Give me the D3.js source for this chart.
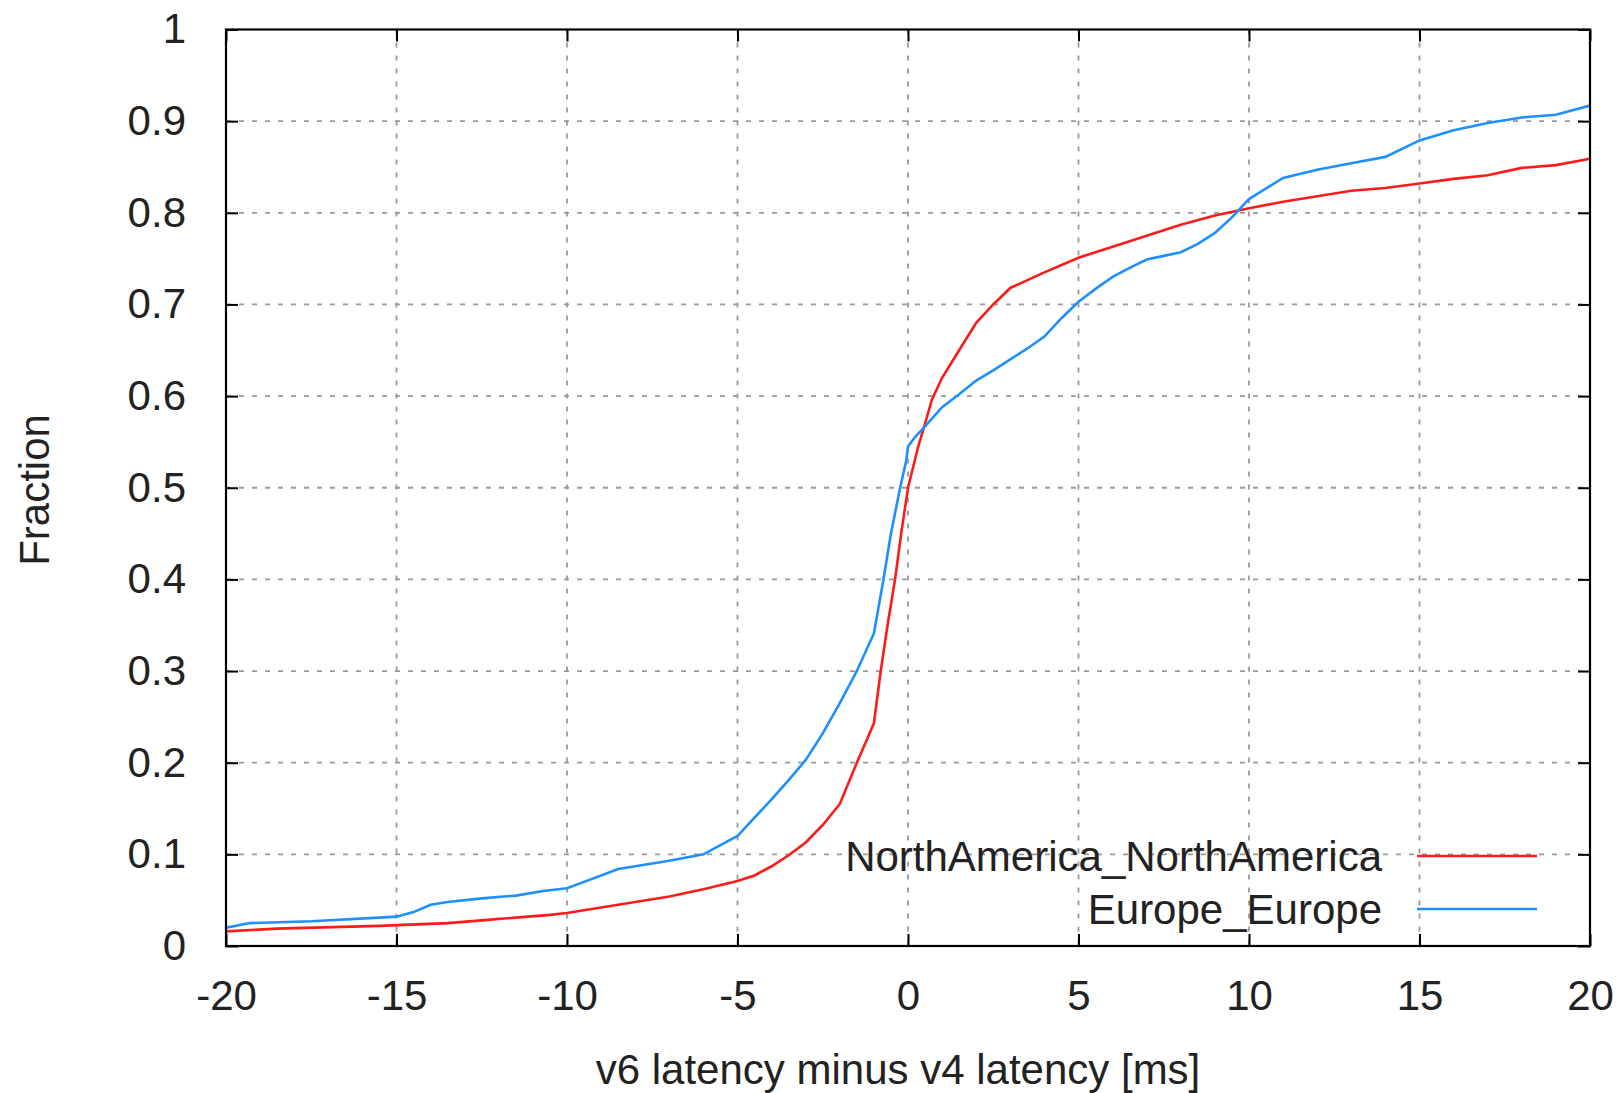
<!DOCTYPE html>
<html>
<head>
<meta charset="utf-8">
<script src="https://cdn.jsdelivr.net/npm/d3@7"></script>
<style>
  body { margin: 0; background: #fff; }
  text { font-family: "Liberation Sans", Arial, sans-serif; fill: #222; }
</style>
</head>
<body>
<svg id="chart"></svg>
<script>
// CDF of v6 latency minus v4 latency
let naLatency = [-20, -18.5, -15.5, -13.5, -12.5, -11.5, -10.5, -10, -9, -8,
    -7, -6, -5, -4.5, -4, -3.5, -3, -2.5, -2, -1.5,
    -1, -0.8, -0.6, -0.38, -0.2, 0, 0.3, 0.5, 0.7, 1,
    1.5, 2, 2.5, 3, 4, 5, 6, 7, 8, 9,
    10, 11, 12, 13, 14, 15, 16, 17, 18, 19, 20]
let naFraction = [0.016, 0.019, 0.022, 0.025, 0.028, 0.031, 0.034, 0.036, 0.042, 0.048,
    0.054, 0.062, 0.071, 0.077, 0.087, 0.099, 0.113, 0.132, 0.155, 0.2,
    0.243, 0.3, 0.35, 0.4, 0.45, 0.5, 0.545, 0.57, 0.596, 0.62,
    0.65, 0.68, 0.7, 0.718, 0.735, 0.751, 0.763, 0.775, 0.787, 0.797,
    0.805, 0.812, 0.818, 0.824, 0.827, 0.832, 0.837, 0.841, 0.849, 0.852, 0.859]

let euLatency = [-20, -19.7, -19.3, -17.5, -15.5, -15, -14.5, -14, -13.5, -12.5,
    -11.5, -10.7, -10, -9.5, -9, -8.5, -8, -7, -6, -5.5,
    -5, -4.5, -4, -3.5, -3, -2.5, -2, -1.5, -1, -0.72,
    -0.5, -0.23, -0.05, 0, 0.2, 0.5, 1, 1.5, 2, 2.5,
    3, 3.5, 4, 4.5, 5, 5.5, 6, 6.5, 7, 7.5,
    8, 8.5, 9, 9.5, 10, 11, 12, 13, 14, 15,
    16, 17, 18, 19, 20]
let euFraction = [0.02, 0.022, 0.025, 0.027, 0.031, 0.032, 0.037, 0.045, 0.048, 0.052,
    0.055, 0.06, 0.063, 0.07, 0.077, 0.084, 0.087, 0.093, 0.1, 0.11,
    0.12, 0.14, 0.16, 0.181, 0.203, 0.232, 0.265, 0.3, 0.341, 0.4,
    0.45, 0.5, 0.53, 0.545, 0.555, 0.567, 0.588, 0.602, 0.617, 0.628,
    0.64, 0.652, 0.665, 0.685, 0.703, 0.717, 0.73, 0.74, 0.749, 0.753,
    0.757, 0.766, 0.778, 0.795, 0.815, 0.838, 0.847, 0.854, 0.861, 0.879,
    0.89, 0.898, 0.904, 0.907, 0.917]

let seriesNames = ["NorthAmerica_NorthAmerica", "Europe_Europe"]
let seriesColors = ["#ff1a1a", "#1e8fff"]
let xTicks = [-20, -15, -10, -5, 0, 5, 10, 15, 20]
let yTicks = [0, 0.1, 0.2, 0.3, 0.4, 0.5, 0.6, 0.7, 0.8, 0.9, 1]

let width = 1622
let height = 1093
let plotLeft = 226, plotRight = 1590, plotTop = 29.5, plotBottom = 946

let chart = d3.select("#chart").attr("width", width).attr("height", height)

let xscale = d3.scaleLinear().domain([-20, 20]).range([plotLeft, plotRight])
let yscale = d3.scaleLinear().domain([0, 1]).range([plotBottom, plotTop])

// dashed grid
let grid = chart.append("g")
grid.selectAll("line.vx").data(xTicks.slice(1, -1)).enter().append("line")
    .attr("x1", d => xscale(d)).attr("x2", d => xscale(d))
    .attr("y1", plotTop).attr("y2", plotBottom)
grid.selectAll("line.hy").data(yTicks.slice(1, -1)).enter().append("line")
    .attr("x1", plotLeft).attr("x2", plotRight)
    .attr("y1", d => yscale(d)).attr("y2", d => yscale(d))
grid.selectAll("line")
    .style("stroke", "#999")
    .style("stroke-width", 1.8)
    .style("stroke-dasharray", "5,8")

// axes, ticks pointing inward on all four sides
let fontSize = 42
chart.append("g")
    .attr("transform", "translate(0," + plotBottom + ")")
    .call(d3.axisBottom(xscale).tickValues(xTicks).tickSize(-12).tickPadding(34).tickFormat(d => String(d)))
chart.append("g")
    .attr("transform", "translate(" + plotLeft + ",0)")
    .call(d3.axisLeft(yscale).tickValues(yTicks).tickSize(-12).tickPadding(40).tickFormat(d => d === 0 || d === 1 ? String(d) : d.toFixed(1)))
chart.append("g")
    .attr("transform", "translate(0," + plotTop + ")")
    .call(d3.axisTop(xscale).tickValues(xTicks).tickSize(-12).tickFormat(""))
chart.append("g")
    .attr("transform", "translate(" + plotRight + ",0)")
    .call(d3.axisRight(yscale).tickValues(yTicks).tickSize(-12).tickFormat(""))

chart.selectAll(".domain").remove()
chart.selectAll(".tick line").style("stroke", "#000").style("stroke-width", 2)
chart.selectAll(".tick text")
    .style("font-size", fontSize + "px")
    .style("font-family", "'Liberation Sans', Arial, sans-serif")
    .style("fill", "#222")

// curves
let series = [
    { name: seriesNames[0], xs: naLatency, ys: naFraction, color: seriesColors[0] },
    { name: seriesNames[1], xs: euLatency, ys: euFraction, color: seriesColors[1] }
]

let line = d3.line()
    .x(d => xscale(d[0]))
    .y(d => yscale(d[1]))

chart.append("clipPath").attr("id", "plotclip")
    .append("rect").attr("x", plotLeft).attr("y", plotTop)
    .attr("width", plotRight - plotLeft).attr("height", plotBottom - plotTop)

chart.append("g").attr("clip-path", "url(#plotclip)")
    .selectAll("path").data(series).enter().append("path")
    .attr("d", s => line(s.xs.map((x, i) => [x, s.ys[i]])))
    .style("fill", "none")
    .style("stroke", s => s.color)
    .style("stroke-width", 2.6)

// frame
chart.append("rect")
    .attr("x", plotLeft).attr("y", plotTop)
    .attr("width", plotRight - plotLeft).attr("height", plotBottom - plotTop)
    .style("fill", "none").style("stroke", "#000").style("stroke-width", 2.2)

// legend
let legend = chart.append("g")
let legendRows = legend.selectAll("g").data(series).enter().append("g")
    .attr("transform", (d, i) => "translate(0," + (856 + i * 53) + ")")
legendRows.append("text")
    .attr("x", 1382).attr("dy", "0.35em")
    .style("text-anchor", "end")
    .style("font-size", fontSize + "px")
    .text(d => d.name)
legendRows.append("line")
    .attr("x1", 1417).attr("x2", 1537)
    .style("stroke", d => d.color)
    .style("stroke-width", 2.6)

// axis titles
chart.append("text")
    .attr("transform", "translate(" + ((plotLeft + plotRight) / 2 - 10) + "," + 1069 + ")")
    .attr("dy", "0.35em")
    .style("text-anchor", "middle")
    .style("font-size", fontSize + "px")
    .text("v6 latency minus v4 latency [ms]")

chart.append("text")
    .attr("transform", "translate(34," + 490 + ") rotate(-90)")
    .attr("dy", "0.35em")
    .style("text-anchor", "middle")
    .style("font-size", fontSize + "px")
    .text("Fraction")
</script>
</body>
</html>
